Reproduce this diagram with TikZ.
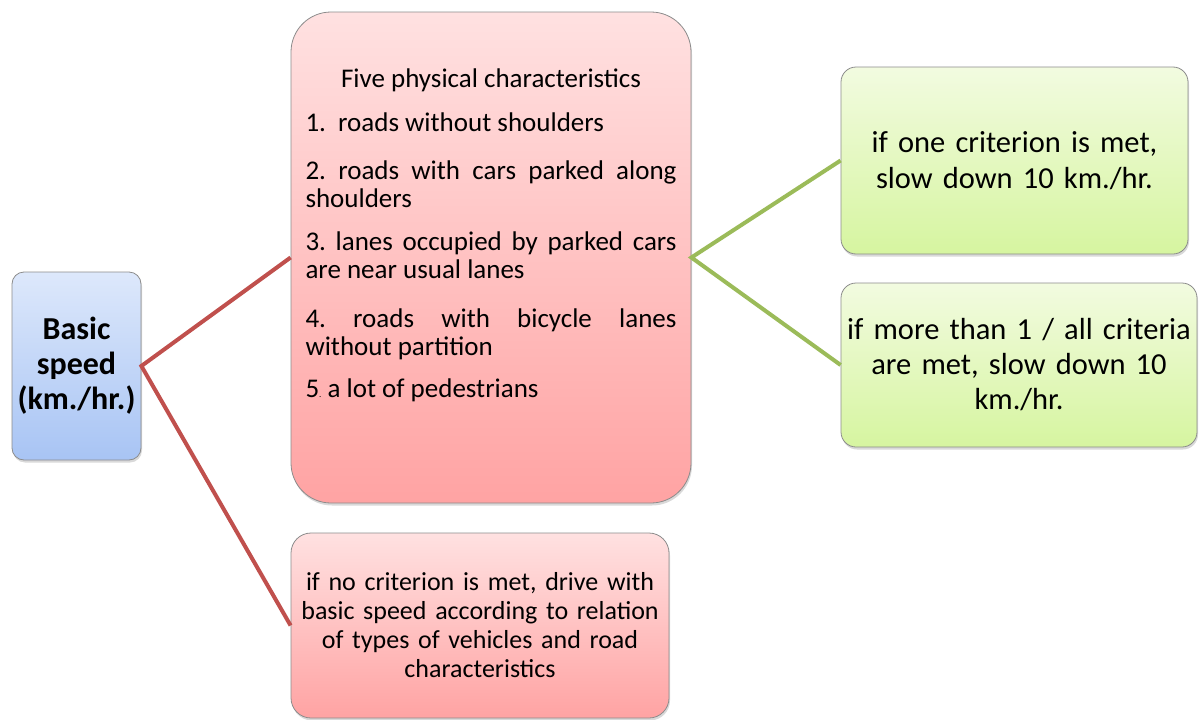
\documentclass[tikz,border=0pt]{standalone}
\usepackage{fontspec}
\setmainfont{Carlito}
\usetikzlibrary{shadows}

\definecolor{boxline}{HTML}{8C8C8C}
\definecolor{linkred}{HTML}{C0504D}
\definecolor{linkgreen}{HTML}{9BBB59}

\begin{document}
\frenchspacing
\begin{tikzpicture}[x=1pt,y=-1pt,
    card/.style={draw=boxline,line width=0.8pt,
        drop shadow={opacity=0.3,shadow xshift=1pt,shadow yshift=-2.5pt}},
    bluecard/.style={card,top color={rgb,255:red,221;green,232;blue,251},bottom color={rgb,255:red,168;green,196;blue,244}},
    pinkcard/.style={card,top color={rgb,255:red,255;green,225;blue,225},bottom color={rgb,255:red,255;green,163;blue,163}},
    greencard/.style={card,top color={rgb,255:red,242;green,251;blue,224},bottom color={rgb,255:red,214;green,245;blue,160}},
    redlink/.style={linkred,line width=4pt},
    greenlink/.style={linkgreen,line width=4pt}]

    \useasboundingbox (0,0) rectangle (1200,720);

    % 左侧起点
    \node[bluecard,rounded corners=12pt,minimum width=129pt,minimum height=188pt,
        inner sep=2pt,text width=125pt,align=center,
        font=\bfseries\fontsize{32}{35}\selectfont] (basic) at (76.5,366) {Basic\\ speed\\ (km./hr.)};

    % 中间五个条件
    \node[pinkcard,rounded corners=40pt,minimum width=400pt,minimum height=491pt,inner sep=0pt,
        font=\fontsize{27}{28}\selectfont] (chars) at (491,257.5) {%
        \parbox[c][491pt][t]{371pt}{%
            \vspace*{57pt}%
            {\centering Five physical characteristics\par}\vspace{16pt}
            1.\ \ roads without shoulders\par\vspace{20pt}
            2. roads with cars parked along\linebreak shoulders\par\vspace{15pt}
            3. lanes occupied by parked cars\linebreak are near usual lanes\par\vspace{21pt}
            4. roads with bicycle lanes\linebreak without partition\par\vspace{14pt}
            5{\small.} a lot of pedestrians\par}};

    % 右侧两个结果
    \node[greencard,rounded corners=15pt,minimum width=347pt,minimum height=187pt,
        inner sep=2pt,text width=343pt,align=center,
        font=\fontsize{30.5}{36}\selectfont] (one) at (1014.5,160.5) {if one criterion is met,\\ slow down 10 km./hr.};
    \node[greencard,rounded corners=15pt,minimum width=354pt,minimum height=164pt,
        inner sep=2pt,text width=352pt,align=center,
        font=\fontsize{30.5}{35}\selectfont] (more) at (1019,365) {if more than 1 / all criteria\\ are met, slow down 10\\ km./hr.};

    % 底部
    \node[pinkcard,rounded corners=20pt,minimum width=378pt,minimum height=185pt,
        inner sep=4pt,text width=370pt,align=center,
        font=\fontsize{26}{29}\selectfont] (none) at (480,625.5) {if no criterion is met, drive with\\ basic speed according to relation\\ of types of vehicles and road\\ characteristics};

    % 连线
    \draw[redlink] (chars.west) -- (basic.east) -- (none.west);
    \draw[greenlink] (one.west) -- (chars.east) -- (more.west);

\end{tikzpicture}
\end{document}
